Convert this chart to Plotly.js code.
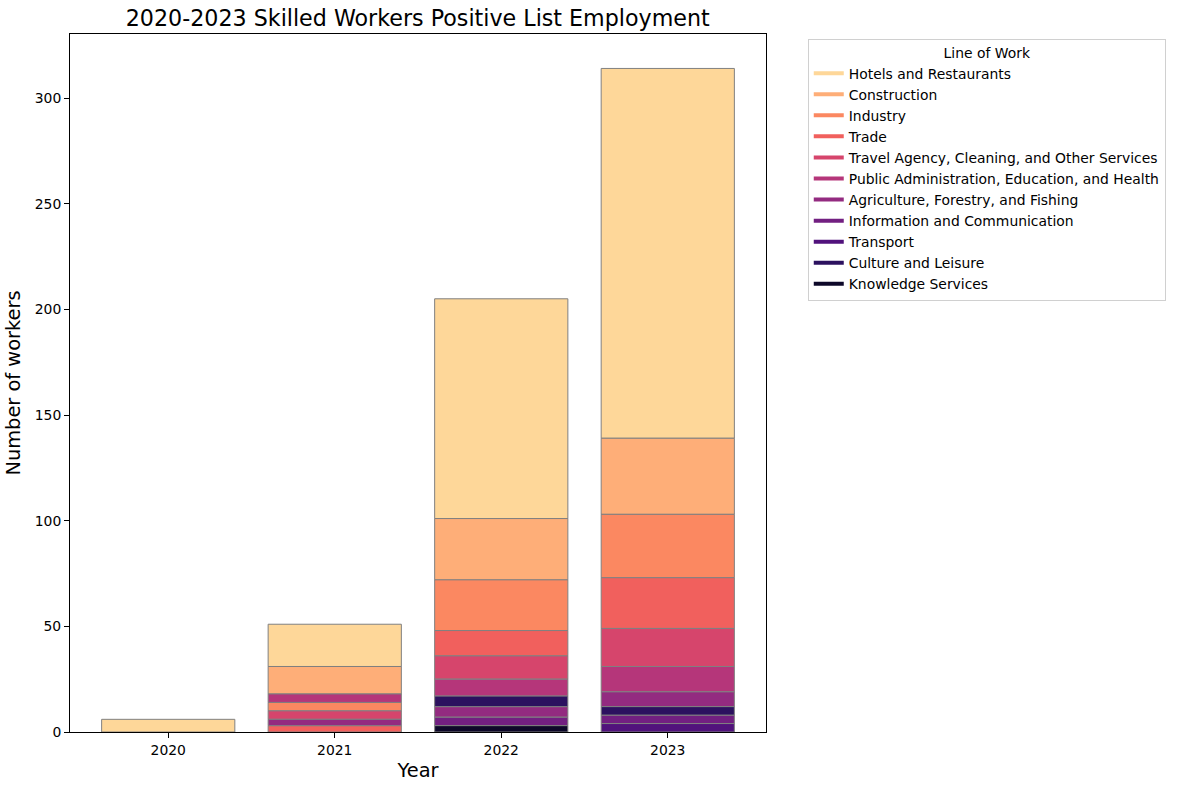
<!DOCTYPE html>
<html><head><meta charset="utf-8">
<script src="https://cdn.plot.ly/plotly-3.0.1.min.js"></script>
<style>body{margin:0;background:#fff}#c{width:1178px;height:790px}</style>
</head><body><div id="c"></div>
<script>
const years = ["2020","2021","2022","2023"];
const categories = ["Hotels and Restaurants","Construction","Industry","Trade",
  "Travel Agency, Cleaning, and Other Services","Public Administration, Education, and Health",
  "Agriculture, Forestry, and Fishing","Information and Communication","Transport",
  "Culture and Leisure","Knowledge Services"];
const hotels      = [6, 20, 104, 175];
const construction= [0, 13, 29, 36];
const industry    = [0, 4, 24, 30];
const trade       = [0, 3, 12, 24];
const travel      = [0, 4, 11, 18];
const publicAdmin = [0, 4, 8, 12];
const agriculture = [0, 3, 5, 7];
const information = [0, 0, 4, 4];
const transport   = [0, 0, 0, 4];
const culture     = [0, 0, 5, 4];
const knowledge   = [0, 0, 3, 0];
const series = [hotels,construction,industry,trade,travel,publicAdmin,agriculture,information,transport,culture,knowledge];
const colors = ["#fed799","#feae78","#fb8861","#f1605d","#d6456c","#b5367a","#932b80","#721f81","#51127c","#2c115f","#0d0829"];
// tie-break rank (lower stacks lower) for equal values within a year
const tieRank = [10,9,6,2,5,7,3,1,0,4,8];

// per-year ascending stacking
const bases = series.map(()=>years.map(()=>0));
years.forEach((y,j)=>{
  const idx = series.map((s,i)=>i).sort((a,b)=> (series[a][j]-series[b][j]) || (tieRank[a]-tieRank[b]));
  let acc = 0;
  idx.forEach(i=>{ bases[i][j]=acc; acc+=series[i][j]; });
});

const traces = [];
series.forEach((s,i)=>{
  traces.push({type:'bar', x:years, y:s.map(v=>v>0?v:null), base:bases[i],
    marker:{color:colors[i], line:{color:'#808080', width:1}}, width:0.8,
    name:categories[i], showlegend:false, hoverinfo:'skip'});
});
series.forEach((s,i)=>{
  traces.push({type:'scatter', mode:'lines', x:[null], y:[null], name:categories[i],
    line:{color:colors[i], width:4}, showlegend:true});
});

const layout = {
  width:1178, height:790,
  margin:{l:70, r:412, t:34, b:58},
  paper_bgcolor:'#fff', plot_bgcolor:'#fff',
  font:{family:'DejaVu Sans', size:13.9, color:'#000'},
  barmode:'overlay',
  title:{text:'2020-2023 Skilled Workers Positive List Employment', font:{size:22.2}, x:0.3546, xanchor:'center', y:0.977, yanchor:'middle'},
  xaxis:{type:'category', range:[-0.59,3.59], showline:true, mirror:true, linecolor:'#000', linewidth:1,
    ticks:'outside', ticklen:5, tickcolor:'#000', showgrid:false, zeroline:false, tickfont:{size:13.9},
    title:{text:'Year', font:{size:19.4}, standoff:6}},
  yaxis:{range:[0,330.3], showline:true, mirror:true, linecolor:'#000', linewidth:1,
    ticks:'outside', ticklen:5, tickcolor:'#000', showgrid:false, zeroline:false, tickfont:{size:13.9},
    tickvals:[0,50,100,150,200,250,300],
    title:{text:'Number of workers', font:{size:19.4}, standoff:8}},
  legend:{x:1.06, xanchor:'left', y:0.9935, yanchor:'top', bgcolor:'#fff', bordercolor:'#d0d0d0', borderwidth:1,
    font:{size:13.9}, tracegroupgap:0,
    title:{text:'Line of Work', side:'top center', font:{size:13.9}}}
};
Plotly.newPlot('c', traces, layout, {displayModeBar:false, staticPlot:true});
</script></body></html>
